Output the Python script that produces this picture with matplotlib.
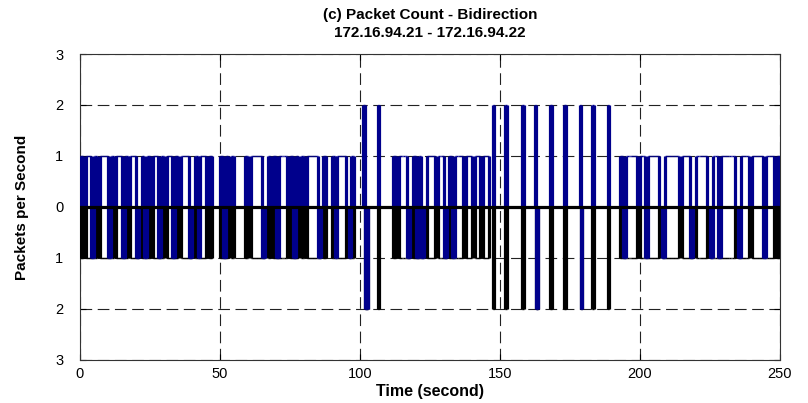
import numpy as np
import matplotlib.pyplot as plt

plt.rcParams['font.family'] = ['Liberation Sans', 'DejaVu Sans']

duration = 250
step = 0.5  # seconds per sample

# runs of steady 1 packet/s traffic in both directions (start, stop)
blocks = [(0, 47), (50, 55), (59, 68), (69, 78), (79, 88), (90, 98),
          (112, 146), (193, 250)]

# one-second gaps inside the runs (no forward / no reverse packet)
up_dips = [1, 4, 6, 10, 12, 15, 17, 20, 21, 23, 25, 28, 30, 33, 35, 39, 40,
           42, 45, 51, 53, 60, 65, 66, 70, 74, 76, 80, 85, 86, 91, 95, 96,
           113, 117, 118, 120, 122, 123, 127, 130, 131, 133, 137, 140, 143,
           194, 199, 202, 207, 208, 214, 218, 219, 224, 225, 228, 234, 235,
           239, 244, 248]
down_dips = [1, 6, 12, 17, 21, 25, 30, 35, 40, 45, 53, 60, 66, 74, 80, 86,
             95, 113, 118, 123, 127, 131, 137, 140, 143,
             199, 207, 214, 219, 224, 234, 239, 248]

# short 2 packet bursts
up_spikes = [101, 101.5, 106.5, 147.5, 152, 158, 162.5, 168, 173, 178.5,
             183, 188.5]
down_spikes = [102, 102.5, 106.5, 147.5, 152, 158, 163, 168, 173, 179,
               183, 188.5]
spike_level = 2

n = int(duration / step)
up = np.zeros(n)
down = np.zeros(n)
for start, stop in blocks:
    up[int(start / step):int(stop / step)] = 1
    down[int(start / step):int(stop / step)] = 1
for t in up_dips:
    up[int(t / step):int((t + 1) / step)] = 0
for t in down_dips:
    down[int(t / step):int((t + 1) / step)] = 0
for t in up_spikes:
    up[int(t / step)] = spike_level
for t in down_spikes:
    down[int(t / step)] = spike_level

# blue trace: forward count, dropping to the reverse count when no forward packet
both = np.where(up > 0, up, -down)
edges = np.arange(n + 1) * step


def draw_steps(ax, vals, color, z):
    # step trace: heavy risers, light treads
    ext = np.r_[0, vals, 0]
    j = np.nonzero(ext[1:] != ext[:-1])[0]
    ax.vlines(edges[j], ext[j], ext[j + 1], color=color, lw=2.3, zorder=z)
    k = np.nonzero(vals)[0]
    ax.hlines(vals[k], edges[k], edges[k + 1], color=color, lw=1.0, zorder=z)


fig = plt.figure(figsize=(8.08, 4.03), dpi=100)
ax = fig.add_axes([0.099, 0.107, 0.866, 0.759])

draw_steps(ax, -down, 'black', 3)
draw_steps(ax, both, '#00008c', 4)
ax.axhline(0, color='black', lw=2.3, zorder=5)

ax.set_xlim(0, 250)
ax.set_ylim(-3, 3)
ax.set_xticks([0, 50, 100, 150, 200, 250])
ax.set_yticks([-3, -2, -1, 0, 1, 2, 3])
ax.set_yticklabels(['3', '2', '1', '0', '1', '2', '3'])
ax.grid(True, color='#222222', lw=0.8, linestyle=(0, (10.5, 5)))
ax.tick_params(direction='in', length=4, width=0.8, top=True, right=True,
               labelsize=10.5)
ax.tick_params(axis='y', pad=12)
ax.tick_params(axis='x', pad=5)
for s in ax.spines.values():
    s.set_linewidth(0.8)
    s.set_color('#333333')

ax.set_title('(c) Packet Count - Bidirection\n172.16.94.21 - 172.16.94.22',
             fontsize=11, fontweight='bold', linespacing=1.4, pad=12)
ax.set_xlabel('Time (second)', fontsize=11.5, fontweight='bold', labelpad=2)
ax.set_ylabel('Packets per Second', fontsize=11, fontweight='bold', labelpad=19)

fig.savefig('out.png', dpi=100)
